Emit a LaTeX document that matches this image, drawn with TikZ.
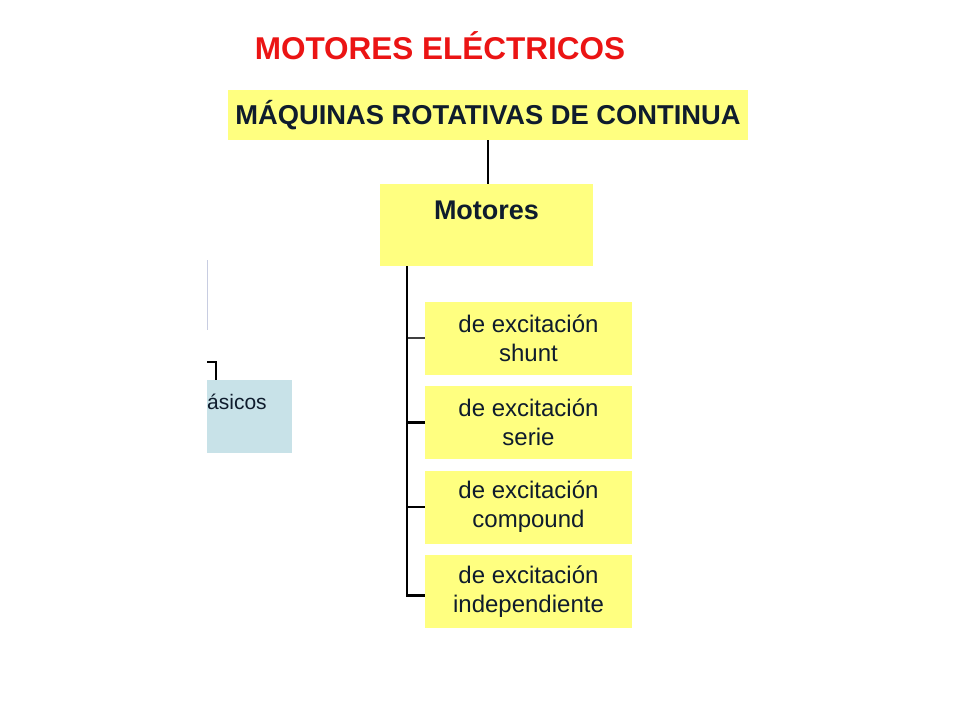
\documentclass[tikz,border=0pt]{standalone}
\usepackage{fontspec}
\setmainfont{Liberation Sans}
\usetikzlibrary{positioning}

\definecolor{amarillo}{RGB}{255,255,128}
\definecolor{celeste}{RGB}{200,226,232}
\definecolor{tinta}{RGB}{15,28,45}
\definecolor{rojo}{RGB}{235,20,20}
\definecolor{gris}{RGB}{200,205,225}

\begin{document}
\begin{tikzpicture}[x=1pt,y=-1pt,
	caja/.style={fill=amarillo,inner sep=0pt,text=tinta,align=center},
	hijo/.style={caja,minimum width=207pt,minimum height=73pt,font=\fontsize{24}{29}\selectfont},
	rama/.style={line width=2.8pt}]

\useasboundingbox[fill=white] (0,0) rectangle (960,720);

\def\dy{84.5}

\node[text=rojo,font=\fontsize{31.5}{36}\selectfont\bfseries] (titulo) at (440,46) {MOTORES ELÉCTRICOS};

\node[caja,minimum width=520pt,minimum height=50pt,font=\fontsize{27.3}{32}\selectfont\bfseries] (top) at (488,115) {MÁQUINAS ROTATIVAS DE CONTINUA};

\node[caja,minimum width=213pt,minimum height=82pt,text depth=30pt,font=\fontsize{27}{32}\selectfont\bfseries] (mot) at (486.5,225) {Motores};

\foreach[count=\i] \text in {shunt,serie,compound,independiente}
	\node[hijo] (ex-\i) at (528.5,338+\i*\dy-\dy) {de excitación\\\text};

\coordinate (trunk) at (407,266);

\draw[rama](top.south)--(top.south |- mot.north);
\draw[line width=1.5pt,color=black!75](trunk)|-(ex-1.west);
\foreach \i in {2,3}
	\draw[rama](trunk)|-(ex-\i.west);
\draw[rama](trunk)|-([yshift=-4pt]ex-4.west);

% parte recortada a la izquierda
\begin{scope}
\clip (207,0) rectangle (960,720);
\draw[color=gris,line width=1pt](207,260)--(207,330);
\node[fill=celeste,minimum width=142pt,minimum height=73pt,inner sep=0pt] (bas) at (221,416.5) {};
\node[anchor=west,inner sep=0pt,text=tinta,font=\fontsize{21}{25}\selectfont] (bas-txt) at (207,402) {ásicos};
\coordinate (brk) at (200,362);
\draw[line width=2.5pt](brk)-|(bas.north -| 216,0);
\end{scope}

\end{tikzpicture}
\end{document}
